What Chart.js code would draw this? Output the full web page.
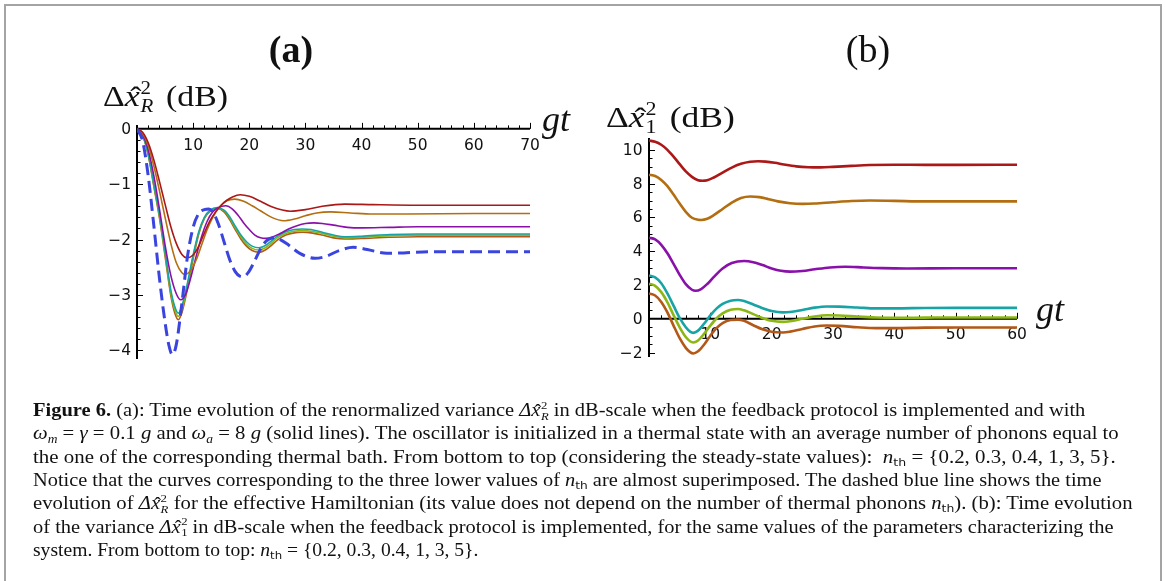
<!DOCTYPE html>
<html>
<head>
<meta charset="utf-8">
<script src="https://cdn.jsdelivr.net/npm/chart.js@4.4.1/dist/chart.umd.min.js"></script>
<style>
  html, body { margin: 0; padding: 0; background: #fff; }
  body { width: 1165px; height: 581px; position: relative; overflow: hidden; font-family: "Liberation Serif", serif; color: #111; }
  canvas { position: absolute; left: 0; top: 0; }
  .frame { position: absolute; left: 4px; top: 4px; width: 1154px; height: 640px; border: 2px solid #a4a4a4; }
  .abs { position: absolute; white-space: nowrap; }
  .title { font-size: 38px; line-height: 38px; transform: translateX(-50%); }
  .ylab { font-size: 30px; line-height: 30px; transform-origin: 0 0; }
  .gt { font-size: 36px; line-height: 36px; font-style: italic; }
  .cap { position: absolute; left: 33px; white-space: nowrap; font-size: 18px; line-height: 23px; transform-origin: 0 0; }
  .hat { position: relative; display: inline-block; font-style: italic; }
  .hat::after { content: "\02C6"; position: absolute; left: 0.16em; top: 0.04em; font-style: normal; }
  .ss { display: inline-block; vertical-align: -0.32em; font-size: 0.62em; line-height: 0.95; text-align: left; margin-left: 0.04em; }
  .ss > span { display: block; }
  .ylab .ss { margin-right: 0.2em; }
  .th { font-family: "DejaVu Sans", sans-serif; font-size: 0.6em; font-style: normal; vertical-align: -0.3em; }
  sub { font-size: 0.65em; vertical-align: -0.3em; line-height: 0; }
</style>
</head>
<body>
<div class="frame"></div>
<canvas id="chartA" width="1165" height="581"></canvas>
<canvas id="chartB" width="1165" height="581"></canvas>

<div class="abs title" style="left:291px; top:30px; font-weight:bold">(a)</div>
<div class="abs title" style="left:868px; top:30px">(b)</div>

<div class="abs ylab" data-w="125" style="left:103px; top:79px">Δ<span class="hat">x</span><span class="ss"><span>2</span><span><i>R</i></span></span> (dB)</div>
<div class="abs ylab" data-w="129" style="left:606px; top:100px">Δ<span class="hat">x</span><span class="ss"><span>2</span><span>1</span></span> (dB)</div>
<div class="abs gt" style="left:542px; top:101px">gt</div>
<div class="abs gt" style="left:1036px; top:291px">gt</div>

<div class="cap" data-r="1085" style="top:399px"><b>Figure 6.</b> (a): Time evolution of the renormalized variance <i>Δ</i><span class="hat">x</span><span class="ss"><span>2</span><span><i>R</i></span></span> in dB-scale when the feedback protocol is implemented and with</div>
<div class="cap" data-r="1119" style="top:422px"><i>ω<sub>m</sub></i> = <i>γ</i> = 0.1 <i>g</i> and <i>ω<sub>a</sub></i> = 8 <i>g</i> (solid lines). The oscillator is initialized in a thermal state with an average number of phonons equal to</div>
<div class="cap" data-r="1116" style="top:445.5px">the one of the corresponding thermal bath. From bottom to top (considering the steady-state values): &nbsp;<i>n</i><span class="th">th</span> = {0.2, 0.3, 0.4, 1, 3, 5}.</div>
<div class="cap" data-r="1102" style="top:469px">Notice that the curves corresponding to the three lower values of <i>n</i><span class="th">th</span> are almost superimposed. The dashed blue line shows the time</div>
<div class="cap" data-r="1132" style="top:492px">evolution of <i>Δ</i><span class="hat">x</span><span class="ss"><span>2</span><span><i>R</i></span></span> for the effective Hamiltonian (its value does not depend on the number of thermal phonons <i>n</i><span class="th">th</span>). (b): Time evolution</div>
<div class="cap" data-r="1114" style="top:515.5px">of the variance <i>Δ</i><span class="hat">x</span><span class="ss"><span>2</span><span>1</span></span> in dB-scale when the feedback protocol is implemented, for the same values of the parameters characterizing the</div>
<div class="cap" style="top:539px">system. From bottom to top: <i>n</i><span class="th">th</span> = {0.2, 0.3, 0.4, 1, 3, 5}.</div>

<script>
// (a) renormalized variance vs gt, one series per thermal occupation n_th
const tN5a = [0, 1, 2, 3, 4, 5, 6, 7, 8, 8.85, 10, 11, 12, 13, 14, 15, 16, 17, 18.4, 20, 22, 24, 27.3, 30, 33, 37, 42, 50, 60, 70]
const dbN5a = [0, -0.06, -0.25, -0.56, -0.95, -1.36, -1.76, -2.07, -2.27, -2.33, -2.28, -2.12, -1.88, -1.66, -1.5, -1.38, -1.29, -1.23, -1.19, -1.22, -1.31, -1.41, -1.49, -1.46, -1.4, -1.36, -1.37, -1.38, -1.38, -1.38]

const tN3a = [0, 1, 2, 3, 4, 5, 6, 7, 8, 8.55, 9.5, 10.5, 11.5, 12.5, 13.5, 14.8, 16, 17.4, 19, 20.5, 22, 24, 26.1, 28, 30, 32, 34.5, 38, 42, 48, 60, 70]
const dbN3a = [0, -0.08, -0.3, -0.67, -1.12, -1.6, -2.06, -2.42, -2.6, -2.63, -2.57, -2.38, -2.1, -1.82, -1.6, -1.4, -1.3, -1.27, -1.31, -1.39, -1.48, -1.6, -1.66, -1.63, -1.57, -1.52, -1.5, -1.52, -1.54, -1.54, -1.53, -1.53]

const tN1a = [0, 1, 2, 3, 4, 5, 6, 7, 7.8, 8.7, 9.5, 10.5, 11.5, 12.5, 13.5, 14.5, 15.8, 17, 18, 19, 20, 21, 22, 23, 24, 25.5, 27, 28.5, 30, 31.5, 33, 35, 37.5, 40, 45, 50, 60, 70]
const dbN1a = [0, -0.1, -0.38, -0.85, -1.45, -2.1, -2.64, -2.98, -3.09, -2.98, -2.72, -2.32, -1.95, -1.67, -1.5, -1.42, -1.39, -1.45, -1.56, -1.7, -1.82, -1.92, -1.97, -1.98, -1.96, -1.89, -1.81, -1.75, -1.71, -1.7, -1.71, -1.74, -1.78, -1.79, -1.78, -1.77, -1.77, -1.77]

// the three lowest occupations share one time grid
const tLowA = [0, 1, 2, 3, 4, 5, 6, 6.7, 7.35, 8, 9, 10, 11, 12, 13, 14.3, 15.5, 16.5, 17.5, 18.5, 19.5, 20.5, 21.7, 23, 24, 25, 26.5, 28, 29.5, 31, 33, 35, 37, 40, 45, 50, 60, 70]
const dbN04a = [0, -0.12, -0.45, -1.0, -1.55, -2.22, -2.9, -3.2, -3.33, -3.2, -2.78, -2.28, -1.86, -1.6, -1.47, -1.42, -1.47, -1.59, -1.76, -1.92, -2.04, -2.12, -2.15, -2.1, -2.02, -1.94, -1.86, -1.82, -1.81, -1.82, -1.87, -1.92, -1.95, -1.94, -1.91, -1.9, -1.9, -1.9]
const dbN03a = [0, -0.12, -0.46, -1.02, -1.58, -2.26, -2.95, -3.26, -3.39, -3.26, -2.83, -2.31, -1.88, -1.61, -1.48, -1.43, -1.48, -1.61, -1.79, -1.95, -2.08, -2.16, -2.19, -2.14, -2.06, -1.97, -1.89, -1.85, -1.84, -1.85, -1.89, -1.94, -1.97, -1.96, -1.93, -1.92, -1.92, -1.92]
const dbN02a = [0, -0.12, -0.47, -1.04, -1.61, -2.3, -3.0, -3.32, -3.45, -3.32, -2.88, -2.35, -1.9, -1.62, -1.49, -1.44, -1.5, -1.64, -1.82, -1.99, -2.12, -2.2, -2.23, -2.18, -2.1, -2.01, -1.92, -1.88, -1.87, -1.88, -1.92, -1.97, -1.99, -1.98, -1.96, -1.95, -1.95, -1.95]

// effective Hamiltonian (dashed)
const tEff = [0, 1, 2, 3, 4, 5, 5.7, 6.3, 7, 8, 9, 10, 11, 12, 12.8, 13.6, 14.5, 15.5, 16.5, 17.5, 18.3, 19, 19.8, 21, 22, 23, 24.4, 25.5, 27, 29, 31.7, 33.5, 36, 38.5, 41, 44.5, 48, 52, 60, 70]
const dbEff = [0, -0.22, -0.85, -1.75, -2.7, -3.5, -3.92, -4.08, -3.9, -3.15, -2.3, -1.78, -1.53, -1.46, -1.45, -1.52, -1.72, -2.04, -2.36, -2.58, -2.66, -2.67, -2.6, -2.38, -2.17, -2.03, -1.97, -2.0, -2.1, -2.25, -2.34, -2.31, -2.2, -2.14, -2.18, -2.25, -2.24, -2.22, -2.22, -2.22]

const xTicksA = [10, 20, 30, 40, 50, 60, 70]
const yTicksA = [0, -1, -2, -3, -4]

// (b) variance of x1 vs gt
const tN5b = [0, 1, 2, 3, 4, 5, 6, 7, 8, 8.7, 9.5, 10.5, 12, 13.5, 15, 16.5, 17.8, 19, 20.5, 22, 24, 26, 28, 30, 33, 36, 40, 45, 50, 60]
const dbN5b = [10.55, 10.48, 10.3, 10.0, 9.6, 9.15, 8.72, 8.4, 8.2, 8.17, 8.2, 8.35, 8.65, 8.95, 9.17, 9.29, 9.32, 9.3, 9.23, 9.13, 9.02, 8.97, 8.96, 8.99, 9.05, 9.1, 9.12, 9.11, 9.11, 9.12]

const tN3b = [0, 1, 2, 3, 4, 5, 6, 7, 8, 8.5, 9.5, 10.5, 12, 13.5, 15, 16.5, 18, 19.5, 21, 23, 25, 27, 30, 33, 36, 40, 45, 50, 60]
const dbN3b = [8.53, 8.45, 8.22, 7.85, 7.35, 6.82, 6.33, 5.98, 5.86, 5.85, 5.92, 6.12, 6.5, 6.88, 7.15, 7.24, 7.2, 7.08, 6.95, 6.84, 6.8, 6.82, 6.9, 6.97, 7.0, 6.98, 6.95, 6.95, 6.95]

const tN1b = [0, 1, 2, 3, 4, 5, 6, 7, 7.6, 8.5, 9.5, 10.5, 12, 13.5, 15.5, 17, 18.5, 20, 21.5, 23, 25, 27, 29.5, 32, 35, 38, 42, 50, 60]
const dbN1b = [4.8, 4.7, 4.38, 3.88, 3.25, 2.6, 2.05, 1.72, 1.66, 1.76, 2.06, 2.45, 2.98, 3.3, 3.42, 3.35, 3.18, 2.98, 2.84, 2.79, 2.83, 2.93, 3.04, 3.08, 3.04, 3.0, 2.98, 2.99, 2.99]

const tLowB = [0, 1, 2, 3, 4, 5, 6, 6.7, 7.2, 8, 9, 10, 11, 12, 13.3, 14.5, 15.5, 17, 18.5, 20, 21.8, 23, 25, 27, 29, 31, 34, 37, 40, 45, 50, 60]
const dbN04b = [2.57, 2.45, 2.1, 1.5, 0.78, 0.05, -0.5, -0.76, -0.83, -0.7, -0.28, 0.2, 0.6, 0.88, 1.07, 1.11, 1.05, 0.85, 0.63, 0.46, 0.38, 0.4, 0.52, 0.66, 0.73, 0.72, 0.67, 0.62, 0.62, 0.64, 0.65, 0.65]
const dbN03b = [2.07, 1.95, 1.58, 0.98, 0.22, -0.5, -1.08, -1.33, -1.4, -1.28, -0.88, -0.4, 0.02, 0.32, 0.53, 0.58, 0.5, 0.28, 0.05, -0.12, -0.18, -0.14, 0.0, 0.14, 0.21, 0.2, 0.13, 0.08, 0.06, 0.07, 0.08, 0.08]
const dbN02b = [1.5, 1.38, 1.0, 0.38, -0.4, -1.15, -1.72, -1.97, -2.05, -1.92, -1.52, -1.0, -0.55, -0.25, -0.07, -0.05, -0.12, -0.38, -0.62, -0.77, -0.81, -0.76, -0.6, -0.45, -0.4, -0.42, -0.5, -0.55, -0.55, -0.52, -0.51, -0.51]

const xTicksB = [10, 20, 30, 40, 50, 60]
const yTicksB = [-2, 0, 2, 4, 6, 8, 10]

const colN5 = 'rgb(170, 24, 24)'
const colN3 = 'rgb(178, 110, 16)'
const colN1 = 'rgb(138, 16, 170)'
const colN04 = 'rgb(24, 164, 164)'
const colN03 = 'rgb(140, 182, 20)'
const colN02 = 'rgb(180, 88, 24)'
const colEff = 'rgb(58, 68, 222)'

function pts(t, v) {
    return t.map((x, i) => ({ x: x, y: v[i] }))
}

function series(label, t, v, color, width, dash) {
    return {
        label: label,
        data: pts(t, v),
        borderColor: color,
        borderWidth: width,
        borderDash: dash || [],
        pointRadius: 0,
        fill: false,
        cubicInterpolationMode: 'monotone'
    }
}

function fmt(v) {
    return v < 0 ? '\u2212' + Math.abs(v) : String(v)
}

// Mathematica-like axes crossing at the origin, ticks pointing inward
const axesPlugin = {
    id: 'mAxes',
    beforeDatasetsDraw(chart, args, o) {
        const ctx = chart.ctx, a = chart.chartArea
        const sx = chart.scales.x, sy = chart.scales.y
        const x0 = sx.getPixelForValue(0), y0 = sy.getPixelForValue(0)
        ctx.save()
        ctx.strokeStyle = '#000'
        ctx.lineWidth = 1
        ctx.beginPath()
        for (let i = 1; i * o.xMinor <= sx.max + 1e-9; i++) {
            const v = +(i * o.xMinor).toFixed(4)
            const px = Math.round(sx.getPixelForValue(v)) + 0.5
            const len = o.xTicks.includes(v) ? 6 : 3.5
            ctx.moveTo(px, y0)
            ctx.lineTo(px, y0 - len)
        }
        for (let i = Math.ceil(sy.min / o.yMinor); i * o.yMinor <= sy.max + 1e-9; i++) {
            const v = +(i * o.yMinor).toFixed(4)
            if (v === 0) continue
            const py = Math.round(sy.getPixelForValue(v)) + 0.5
            const len = o.yTicks.includes(v) ? 6 : 3.5
            ctx.moveTo(x0, py)
            ctx.lineTo(x0 + len, py)
        }
        ctx.stroke()
        ctx.lineWidth = 2
        ctx.beginPath()
        ctx.moveTo(x0, a.top)
        ctx.lineTo(x0, a.bottom)
        ctx.moveTo(x0, y0)
        ctx.lineTo(a.right, y0)
        ctx.stroke()
        ctx.fillStyle = '#111'
        ctx.font = '15.5px "DejaVu Sans"'
        ctx.textAlign = 'center'
        ctx.textBaseline = 'middle'
        o.xTicks.forEach(v => ctx.fillText(fmt(v), sx.getPixelForValue(v), y0 + o.xGap))
        ctx.textAlign = 'right'
        o.yTicks.forEach(v => ctx.fillText(fmt(v), x0 - o.yGap, sy.getPixelForValue(v) + 1))
        ctx.restore()
    }
}

function makeChart(id, datasets, pad, xr, yr, axes) {
    return new Chart(document.getElementById(id).getContext('2d'), {
        type: 'line',
        data: { datasets: datasets },
        plugins: [axesPlugin],
        options: {
            responsive: false,
            animation: false,
            devicePixelRatio: 1,
            layout: { padding: pad },
            scales: {
                x: { type: 'linear', min: xr[0], max: xr[1], display: false },
                y: { type: 'linear', min: yr[0], max: yr[1], display: false }
            },
            plugins: {
                legend: { display: false },
                tooltip: { enabled: false },
                mAxes: axes
            }
        }
    })
}

makeChart('chartA', [
    series('effective', tEff, dbEff, colEff, 3, [12, 6]),
    series('n=5', tN5a, dbN5a, colN5, 1.6),
    series('n=3', tN3a, dbN3a, colN3, 1.6),
    series('n=1', tN1a, dbN1a, colN1, 1.6),
    series('n=0.4', tLowA, dbN04a, colN04, 1.6),
    series('n=0.3', tLowA, dbN03a, colN03, 1.6),
    series('n=0.2', tLowA, dbN02a, colN02, 1.6)
], { left: 137, right: 635, top: 125, bottom: 222 }, [0, 70], [-4.16, 0.07],
   { xMinor: 2, yMinor: 0.2, xTicks: xTicksA, yTicks: yTicksA, xGap: 17, yGap: 6 })

makeChart('chartB', [
    series('n=5', tN5b, dbN5b, colN5, 2.6),
    series('n=3', tN3b, dbN3b, colN3, 2.6),
    series('n=1', tN1b, dbN1b, colN1, 2.6),
    series('n=0.4', tLowB, dbN04b, colN04, 2.6),
    series('n=0.3', tLowB, dbN03b, colN03, 2.6),
    series('n=0.2', tLowB, dbN02b, colN02, 2.6)
], { left: 649, right: 148, top: 138, bottom: 224 }, [0, 60], [-2.26, 10.7],
   { xMinor: 2, yMinor: 0.5, xTicks: xTicksB, yTicks: yTicksB, xGap: 16.5, yGap: 6.5 })

// axis titles are stretched to the width of the original typesetting
document.querySelectorAll('.ylab').forEach(el => {
    el.style.transform = 'scaleX(' + (+el.dataset.w / el.scrollWidth) + ')'
})

// stretch each justified caption line to its right margin
const capLines = document.querySelectorAll('.cap')
let scales = []
capLines.forEach(el => {
    if (!el.dataset.r) return
    const k = (+el.dataset.r - 33) / el.scrollWidth
    scales.push(k)
    el.style.transform = 'scaleX(' + k + ')'
})
// the last line is set ragged, a little tighter than the justified ones
const kLast = 0.95 * scales.reduce((s, k) => s + k, 0) / scales.length
capLines.forEach(el => {
    if (!el.dataset.r) el.style.transform = 'scaleX(' + kLast + ')'
})
</script>
</body>
</html>
